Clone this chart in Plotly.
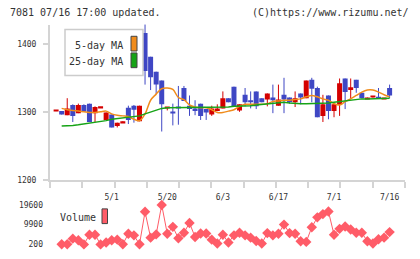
import plotly.graph_objects as go

# ---------------- data ----------------
day_index = list(range(61))
open_ = [1302, 1302, 1296, 1311, 1299, 1311, 1313, 1299, 1307, 1289,
         1297, 1280, 1285, 1307, 1310, 1287, 1417, 1382, 1360, 1347,
         1306, 1301, 1308, 1336, 1310, 1306, 1313, 1305, 1297, 1302,
         1306, 1321, 1338, 1303, 1326, 1318, 1331, 1321, 1319, 1322,
         1310, 1326, 1322, 1315, 1328, 1321, 1348, 1336, 1295, 1325,
         1302, 1311, 1350, 1333, 1348, 1329, 1320, 1322, 1323, 1320,
         1336]
high = [1303, 1302, 1321, 1312, 1313, 1312, 1313, 1309, 1308, 1300,
        1297, 1285, 1287, 1310, 1311, 1310, 1430, 1382, 1360, 1347,
        1308, 1313, 1339, 1339, 1325, 1318, 1313, 1305, 1310, 1312,
        1331, 1321, 1338, 1312, 1336, 1331, 1331, 1321, 1328, 1341,
        1341, 1351, 1322, 1331, 1328, 1347, 1351, 1338, 1326, 1325,
        1312, 1350, 1350, 1350, 1348, 1329, 1322, 1323, 1336, 1321,
        1341]
low = [1302, 1297, 1296, 1286, 1299, 1301, 1286, 1286, 1307, 1289,
       1278, 1278, 1285, 1283, 1285, 1287, 1341, 1333, 1327, 1272,
       1303, 1281, 1282, 1317, 1295, 1296, 1289, 1289, 1295, 1302,
       1306, 1315, 1308, 1301, 1309, 1306, 1305, 1315, 1309, 1299,
       1310, 1299, 1313, 1308, 1312, 1321, 1315, 1293, 1286, 1290,
       1293, 1295, 1305, 1320, 1329, 1321, 1320, 1322, 1320, 1320,
       1321]
close = [1303, 1297, 1306, 1295, 1311, 1301, 1286, 1308, 1308, 1300,
         1278, 1285, 1287, 1289, 1304, 1310, 1361, 1352, 1341, 1312,
         1307, 1299, 1306, 1317, 1305, 1302, 1295, 1300, 1306, 1306,
         1321, 1315, 1308, 1312, 1315, 1315, 1309, 1315, 1328, 1318,
         1319, 1319, 1315, 1321, 1322, 1347, 1335, 1293, 1312, 1302,
         1312, 1343, 1330, 1337, 1336, 1321, 1322, 1323, 1320, 1321,
         1325]
ma5 = [None, 1306, 1304, 1303, 1302, 1301, 1300, 1300, 1301, 1302,
       1298, 1296, 1295, 1294, 1290, 1288, 1298, 1318, 1327, 1335,
       1336, 1334, 1322, 1319, 1311, 1308, 1307, 1307, 1304, 1300,
       1300, 1302, 1304, 1309, 1312, 1312, 1312, 1312, 1313, 1316,
       1317, 1318, 1318, 1319, 1320, 1323, 1325, 1323, 1320, 1318,
       1313, 1311, 1316, 1320, 1325, 1330, 1333, 1333, 1330, 1326,
       1323]
ma25 = [None, 1280, 1280, 1281, 1282, 1283, 1284, 1285, 1287, 1288,
        1290, 1291, 1292, 1293, 1294, 1295, 1298, 1301, 1304, 1306,
        1307, 1307, 1308, 1308, 1308, 1308, 1307, 1307, 1307, 1307,
        1307, 1308, 1309, 1309, 1310, 1310, 1311, 1312, 1312, 1313,
        1315, 1315, 1314, 1313, 1313, 1313, 1313, 1313, 1313, 1314,
        1315, 1316, 1318, 1319, 1320, 1320, 1320, 1320, 1321, 1321,
        1321]
volume = [None, 200, 200, 2950, 2140, 100, 4890, 4890, 100, 1010,
          2140, 2460, 200, 5370, 4570, 200, 16210, 3430, 5050, 19600,
          5370, 8770, 3110, 5860, 10710, 3760, 5500, 5500, 2460, 520,
          4890, 1010, 4570, 5860, 4570, 3430, 1820, 520, 5700, 4570,
          5370, 9900, 5700, 5370, 1660, 1330, 8610, 13460, 15080, 16370,
          4890, 7800, 8930, 7480, 5860, 5860, 1660, 520, 2630, 3430,
          6180]
date_tick_index = [10, 20, 30, 40, 50, 60]
date_tick_labels = ["5/1", "5/20", "6/3", "6/17", "7/1", "7/16"]
price_ticks = [1200, 1300, 1400]
volume_ticks = [200, 9900, 19600]

# ---------------- styling ----------------
W, H = 420, 259
UP, DOWN = "#d40000", "#3f47c4"
ORANGE, GREEN, VOLC = "#f08c1c", "#16a316", "#ff5c68"
AXIS = "#d4d4d4"
FONT = "DejaVu Sans Mono"
TXT = "#333333"
X0, X1 = -1.1, 62.77


def px(x):
    return x / W


def py(y):
    return 1 - y / H


fig = go.Figure()

# candle bodies
base = [min(o, c) for o, c in zip(open_, close)]
height = [max(abs(c - o), 2.2) for o, c in zip(open_, close)]
colors = [UP if c >= o else DOWN for o, c in zip(open_, close)]
fig.add_trace(go.Bar(x=day_index, y=height, base=base, width=0.9,
                     marker=dict(color=colors, line=dict(width=0)),
                     xaxis="x", yaxis="y", hoverinfo="skip"))

# wicks
for col, cond in ((UP, True), (DOWN, False)):
    wx, wy = [], []
    for k, o, h, l, c in zip(day_index, open_, high, low, close):
        if (c >= o) == cond:
            wx += [k, k, None]
            wy += [l, h, None]
    fig.add_trace(go.Scatter(x=wx, y=wy, mode="lines",
                             line=dict(color=col, width=1),
                             xaxis="x", yaxis="y", hoverinfo="skip"))

# moving averages (25-day MA is drawn on the overlaid date-label axis,
# which has the identical domain and range)
fig.add_trace(go.Scatter(x=day_index, y=ma25, mode="lines",
                         line=dict(color=GREEN, width=1.5),
                         xaxis="x3", yaxis="y"))
fig.add_trace(go.Scatter(x=day_index, y=ma5, mode="lines",
                         line=dict(color=ORANGE, width=1.5, shape="spline"),
                         xaxis="x", yaxis="y"))

# volume
fig.add_trace(go.Scatter(x=day_index, y=volume, mode="lines+markers",
                         line=dict(color=VOLC, width=1),
                         marker=dict(symbol="diamond", size=8, color=VOLC),
                         xaxis="x2", yaxis="y2"))

n_ticks = 12
grid_ticks = [X0 + (X1 - X0) * i / (n_ticks - 1) for i in range(n_ticks)]

fig.update_layout(
    width=W, height=H, autosize=False,
    margin=dict(l=0, r=0, t=0, b=0),
    paper_bgcolor="white", plot_bgcolor="white",
    showlegend=False,
    font=dict(family=FONT, color=TXT, size=8),
    xaxis=dict(domain=[px(50), px(405)], range=[X0, X1], anchor="y",
               showline=True, linecolor=AXIS, linewidth=2,
               ticks="outside", ticklen=6, tickcolor=AXIS, tickwidth=2,
               tickvals=grid_ticks, showticklabels=False,
               showgrid=False, zeroline=False),
    xaxis3=dict(domain=[px(50), px(405)], range=[X0, X1], anchor="y",
                overlaying="x", side="bottom", showline=False, ticks="",
                tickvals=date_tick_index, ticktext=date_tick_labels,
                tickfont=dict(size=8, family=FONT, color=TXT),
                ticklabelstandoff=11,
                showgrid=False, zeroline=False),
    yaxis=dict(domain=[py(184), py(25)], range=[1200, 1429.4], anchor="x",
               showline=True, linecolor=AXIS, linewidth=2,
               ticks="outside", ticklen=5, tickcolor=AXIS, tickwidth=2,
               tickvals=price_ticks, ticklabelstandoff=5,
               tickfont=dict(size=8, family=FONT, color=TXT),
               showgrid=False, zeroline=False),
    xaxis2=dict(domain=[px(50), px(405)], range=[X0, X1], anchor="y2",
                showline=False, ticks="", showticklabels=False,
                showgrid=False, zeroline=False),
    yaxis2=dict(domain=[py(255), py(203)], range=[-2700, 22500], anchor="x2",
                showline=False, ticks="", tickvals=volume_ticks,
                ticktext=[str(v) for v in volume_ticks],
                ticklabelstandoff=6,
                tickfont=dict(size=8, family=FONT, color=TXT),
                showgrid=False, zeroline=False),
)

shapes = [
    # MA legend box
    dict(type="rect", xref="paper", yref="paper",
         x0=px(65), x1=px(143), y0=py(77), y1=py(30),
         line=dict(color="#cccccc", width=1.5), fillcolor="white"),
    dict(type="rect", xref="paper", yref="paper",
         x0=px(131), x1=px(137), y0=py(52), y1=py(37),
         line=dict(color="#444444", width=1), fillcolor=ORANGE),
    dict(type="rect", xref="paper", yref="paper",
         x0=px(131), x1=px(137), y0=py(69), y1=py(54),
         line=dict(color="#444444", width=1), fillcolor=GREEN),
    # volume legend swatch
    dict(type="rect", xref="paper", yref="paper",
         x0=px(102), x1=px(107.5), y0=py(228), y1=py(213),
         line=dict(color="#444444", width=1), fillcolor=VOLC),
]
fig.update_layout(shapes=shapes)

ann_font = dict(family=FONT, size=10, color=TXT)
annotations = [
    dict(text="7081 07/16 17:00 updated.", x=px(8), y=py(12.5),
         xanchor="left", yanchor="middle"),
    dict(text="(C)https://www.rizumu.net/", x=px(411), y=py(12.5),
         xanchor="right", yanchor="middle"),
    dict(text="5-day MA", x=px(125), y=py(46),
         xanchor="right", yanchor="middle"),
    dict(text="25-day MA", x=px(125), y=py(63),
         xanchor="right", yanchor="middle"),
    dict(text="Volume", x=px(58), y=py(222),
         xanchor="left", yanchor="middle"),
]
for a in annotations:
    a.update(xref="paper", yref="paper", showarrow=False, font=ann_font)
fig.update_layout(annotations=annotations)

fig.write_html("out.html")
